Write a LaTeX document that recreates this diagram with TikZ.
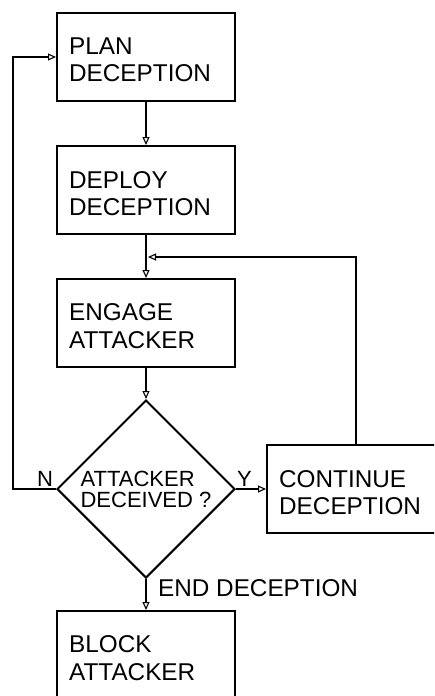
\documentclass[tikz,border=0pt]{standalone}
\usepackage{fontspec}
\setmainfont{Liberation Sans}
\usetikzlibrary{shapes.geometric,arrows.meta,calc}
\begin{document}
\begin{tikzpicture}[x=1pt,y=-1pt,
  box/.style={draw,line width=2pt,minimum width=178pt,minimum height=88pt,inner sep=0pt},
  txt/.style={inner sep=0pt,align=left,font=\fontsize{24.3}{27.5}\selectfont,anchor=north west},
  lbl/.style={inner sep=0pt,font=\fontsize{22}{22}\selectfont,anchor=base west},
  decbox/.style={draw,line width=2pt,diamond,aspect=1,minimum width=178pt,minimum height=178pt,inner sep=0pt,align=left,font=\fontsize{22}{21}\selectfont},
  arr/.style={line width=1.7pt,-{Triangle[open,length=8pt,width=7pt,line width=1.1pt]}}]
\useasboundingbox (0,0) rectangle (434,696);
\clip (0,0) rectangle (434,696);
\fill[white] (0,0) rectangle (434,696);
% boxes
\node[box] (plan) at (146,57) {};
\node[box] (deploy) at (146,190) {};
\node[box] (engage) at (146,323) {};
\node[decbox] (dec) at (146,489) {ATTACKER\\DECEIVED ?};
\node[box,minimum width=300pt] (cont) at (417,489) {};
\node[box] (block) at (146,655) {};
% texts
\node[txt] (plant) at ($(plan.north west)+(13,25.5)$) {PLAN\\DECEPTION};
\node[txt] (deployt) at ($(deploy.north west)+(13,26)$) {DEPLOY\\DECEPTION};
\node[txt] (engaget) at ($(engage.north west)+(13,25.5)$) {ENGAGE\\ATTACKER};
\node[txt] (contt) at ($(cont.north west)+(13,26)$) {CONTINUE\\DECEPTION};
\node[txt] (blockt) at ($(block.north west)+(13,25.5)$) {BLOCK\\ATTACKER};
% labels
\node[lbl] (nlab) at (37,486) {N};
\node[lbl] (ylab) at (237,486) {Y};
\node[lbl,font=\fontsize{24.3}{24}\selectfont] (endlab) at (158,596) {END DECEPTION};
% connectors
\coordinate (merge) at (148,257);
\coordinate (nl) at (13,489);
\coordinate (contup) at ($(cont.north west)+(90,0)$);
\draw[arr] (plan.south) -- (deploy.north);
\draw[arr] (deploy.south) -- (engage.north);
\draw[arr] (engage.south) -- (dec.north);
\draw[arr] (dec.south) -- (block.north);
\draw[arr] (dec.east) -- (cont.west);
\draw[arr] (contup) |- (merge);
\draw[arr] (dec.west) -- (nl) |- (plan.west);
\end{tikzpicture}
\end{document}
